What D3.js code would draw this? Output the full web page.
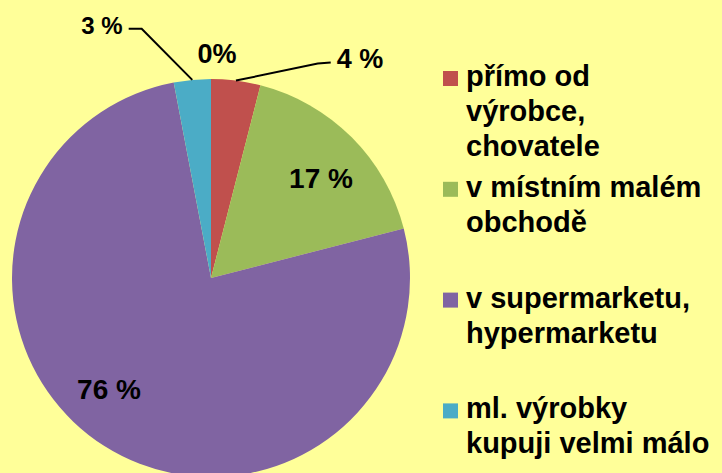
<!DOCTYPE html>
<html>
<head>
<meta charset="utf-8">
<script src="https://cdn.jsdelivr.net/npm/d3@7/dist/d3.min.js"></script>
<style>
  html, body { margin: 0; padding: 0; background: #FFFF99; }
  svg { display: block; }
  text { font-family: "Liberation Sans", Arial, sans-serif; font-weight: bold; fill: #000; }
</style>
</head>
<body>
<svg id="chart" width="722" height="473"></svg>
<script>
// Where dairy products are bought (share of respondents, %)
const legendNames = [
  ["přímo od", "výrobce,", "chovatele"],
  ["v místním malém", "obchodě"],
  ["v supermarketu,", "hypermarketu"],
  ["ml. výrobky", "kupuji velmi málo"]
];
const values = [4, 17, 76, 3, 0];           // last slice: unlisted answer with 0 %
const labelSeparators = [" ", " ", " ", " ", ""];
const colors = ["#C0504D", "#9BBB59", "#8064A2", "#4BACC6", "#F79646"];

// Layout
const W = 722, H = 473;
const cx = 211, cy = 278, R = 199;
// label anchor (text centre x, baseline y) relative to pie centre
const labelOffsets = [[149, -210], [110, -90], [-102, 121], [-109, -244], [6, -215]];
const labelSizes = [27, 28, 28, 24, 27];
const withLeader = [true, false, false, true, false];

const svg = d3.select("#chart");
svg.append("rect").attr("width", W).attr("height", H).attr("fill", "#FFFF99");

const pie = d3.pie().sort(null).value(d => d);
const arcs = pie(values);
const arc = d3.arc().innerRadius(0).outerRadius(R);

const g = svg.append("g").attr("transform", `translate(${cx},${cy})`);
g.selectAll("path.slice")
  .data(arcs)
  .enter().append("path")
  .attr("class", "slice")
  .attr("d", arc)
  .attr("fill", (d, i) => colors[i]);

// data labels
const labels = g.selectAll("text.lbl")
  .data(arcs)
  .enter().append("text")
  .attr("class", "lbl")
  .attr("x", (d, i) => labelOffsets[i][0])
  .attr("y", (d, i) => labelOffsets[i][1])
  .attr("text-anchor", "middle")
  .style("font-size", (d, i) => labelSizes[i] + "px")
  .text((d, i) => d.value + labelSeparators[i] + "%");

// leader lines from the rim to the outside labels
labels.each(function (d, i) {
  if (!withLeader[i]) return;
  const bb = this.getBBox();
  const mid = (d.startAngle + d.endAngle) / 2;
  const rim = [R * Math.sin(mid), -R * Math.cos(mid)];
  const right = rim[0] < labelOffsets[i][0];
  const ly = bb.y + bb.height * 0.62;
  const end = right ? bb.x - 6 : bb.x + bb.width + 6;
  const elbow = right ? end - 13 : end + 13;
  g.append("polyline")
    .attr("points", [rim, [elbow, ly + (right ? 1 : 0)], [end, ly]].map(p => p.join(",")).join(" "))
    .attr("fill", "none")
    .attr("stroke", "#000")
    .attr("stroke-width", 2);
});

// legend
const legendX = 443, firstBaseline = 86, itemStep = 110.8, lineStep = 35, sw = 15;
const legend = svg.append("g");
legendNames.forEach((lines, i) => {
  const y0 = firstBaseline + i * itemStep;
  legend.append("rect")
    .attr("x", legendX).attr("y", y0 - sw)
    .attr("width", sw).attr("height", sw)
    .attr("fill", colors[i]);
  const t = legend.append("text")
    .attr("x", legendX + 23).attr("y", y0)
    .style("font-size", "29px");
  lines.forEach((ln, j) => {
    t.append("tspan").attr("x", legendX + 23).attr("y", y0 + j * lineStep).text(ln);
  });
});
</script>
</body>
</html>
